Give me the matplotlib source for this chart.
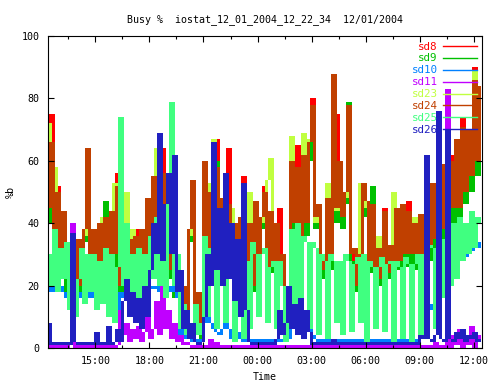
import numpy as np
import pandas as pd
import matplotlib
matplotlib.use("Agg")
import matplotlib.pyplot as plt
from matplotlib.ticker import MultipleLocator, FuncFormatter

# samples every 10 minutes
times = pd.date_range("2004-12-01 12:25", periods=145, freq="10min")
start_hour = 12 + 22 / 60 + 34 / 3600

sd8 = [48, 75, 28, 52, 26, 42, 20, 28, 8, 10, 33, 18,
       36, 64, 28, 36, 20, 38, 24, 40, 22, 42, 28, 56,
       18, 42, 20, 33, 17, 34, 38, 36, 22, 46, 28, 53,
       33, 52, 64, 55, 24, 43, 18, 28, 7, 18, 4, 36,
       48, 6, 16, 3, 58, 28, 48, 33, 67, 28, 46, 26,
       64, 28, 38, 20, 40, 55, 26, 38, 18, 45, 23, 40,
       52, 23, 42, 26, 38, 45, 28, 12, 18, 55, 38, 65,
       34, 60, 38, 64, 80, 40, 44, 28, 23, 46, 26, 86,
       75, 58, 40, 50, 76, 28, 30, 18, 28, 48, 45, 26,
       31, 18, 30, 20, 45, 22, 31, 18, 43, 26, 44, 28,
       47, 28, 38, 26, 41, 28, 49, 30, 51, 33, 53, 36,
       57, 38, 62, 43, 65, 43, 74, 48, 68, 53, 90, 58, 82]
sd9 = [40, 60, 25, 46, 25, 40, 18, 26, 7, 10, 30, 16,
       34, 58, 26, 31, 20, 36, 22, 47, 20, 40, 26, 48,
       16, 38, 18, 30, 15, 32, 20, 34, 20, 44, 26, 50,
       30, 50, 26, 52, 22, 40, 16, 26, 6, 16, 4, 34,
       46, 6, 15, 3, 54, 26, 46, 30, 60, 26, 44, 24,
       42, 26, 36, 20, 38, 46, 24, 36, 18, 42, 22, 38,
       46, 22, 40, 24, 36, 22, 26, 12, 18, 52, 36, 54,
       32, 56, 36, 60, 70, 38, 40, 26, 22, 44, 25, 80,
       40, 55, 38, 46, 79, 26, 28, 18, 26, 48, 42, 24,
       52, 18, 28, 20, 40, 22, 30, 18, 42, 25, 42, 26,
       40, 26, 36, 25, 40, 26, 46, 28, 48, 31, 50, 34,
       54, 36, 56, 40, 62, 40, 66, 46, 64, 50, 80, 55, 78]
sd10 = [20, 18, 22, 19, 20, 18, 16, 14, 8, 10, 18, 16,
        15, 16, 18, 16, 14, 15, 16, 14, 12, 13, 10, 12,
        18, 16, 17, 14, 15, 13, 15, 16, 18, 17, 20, 19,
        20, 18, 17, 16, 18, 20, 18, 16, 4, 6, 3, 4,
        2, 3, 2, 3, 8, 10, 8, 6, 5, 4, 6, 8,
        6, 3, 4, 5, 3, 2, 2, 3, 2, 2, 3, 2,
        2, 2, 3, 2, 2, 3, 2, 2, 3, 10, 8, 9,
        8, 6, 5, 7, 4, 3, 2, 3, 2, 3, 2, 3,
        2, 2, 3, 2, 2, 3, 2, 2, 3, 2, 2, 2,
        3, 2, 2, 3, 2, 2, 2, 3, 2, 2, 3, 2,
        2, 2, 3, 2, 8, 10, 12, 14, 12, 15, 16, 18,
        20, 22, 24, 26, 25, 28, 30, 29, 32, 31, 33, 32, 34]
sd11 = [0, 1, 0, 0, 2, 0, 0, 1, 40, 0, 0, 1,
        0, 0, 2, 0, 0, 1, 0, 0, 3, 0, 0, 1,
        12, 4, 8, 2, 6, 3, 7, 2, 5, 10, 3, 6,
        15, 4, 20, 6, 12, 3, 8, 2, 4, 1, 2, 1,
        0, 1, 0, 0, 1, 0, 3, 0, 2, 0, 1, 0,
        0, 1, 0, 0, 1, 0, 0, 0, 1, 0, 0, 0,
        0, 0, 1, 0, 0, 0, 0, 1, 0, 0, 0, 0,
        0, 0, 1, 0, 0, 0, 0, 0, 0, 1, 0, 0,
        0, 0, 0, 0, 1, 0, 0, 0, 0, 0, 1, 0,
        0, 0, 0, 1, 0, 0, 0, 0, 0, 0, 1, 0,
        0, 0, 1, 0, 0, 0, 1, 0, 0, 2, 0, 1,
        0, 83, 0, 4, 1, 6, 0, 3, 1, 7, 0, 4, 2]
sd23 = [72, 62, 58, 46, 30, 40, 24, 28, 9, 11, 32, 22,
        36, 60, 28, 35, 24, 38, 42, 40, 26, 42, 53, 48,
        22, 38, 50, 33, 38, 34, 24, 36, 26, 46, 32, 52,
        64, 50, 30, 52, 26, 42, 22, 28, 9, 18, 6, 36,
        50, 8, 17, 4, 56, 53, 46, 67, 54, 30, 46, 28,
        44, 45, 38, 22, 40, 48, 28, 50, 20, 44, 26, 40,
        48, 54, 61, 28, 38, 26, 30, 14, 20, 68, 40, 56,
        36, 69, 40, 67, 74, 40, 45, 28, 26, 53, 28, 84,
        44, 58, 42, 48, 74, 30, 30, 20, 53, 50, 45, 28,
        32, 20, 36, 22, 42, 24, 32, 50, 44, 28, 44, 30,
        42, 30, 42, 28, 42, 30, 48, 32, 52, 35, 54, 38,
        58, 40, 58, 45, 65, 45, 70, 50, 68, 55, 89, 60, 82]
sd24 = [45, 66, 30, 50, 28, 44, 22, 30, 8, 12, 35, 20,
        38, 64, 30, 38, 22, 40, 25, 42, 24, 44, 30, 52,
        20, 40, 22, 35, 18, 36, 22, 38, 24, 48, 30, 55,
        35, 54, 30, 56, 25, 45, 20, 30, 8, 20, 5, 38,
        54, 8, 18, 4, 60, 30, 50, 35, 58, 30, 48, 28,
        46, 30, 40, 22, 42, 50, 28, 40, 20, 47, 25, 42,
        50, 25, 44, 28, 40, 26, 30, 14, 20, 60, 40, 58,
        36, 62, 40, 66, 78, 42, 46, 30, 25, 48, 28, 88,
        45, 60, 42, 50, 78, 30, 32, 20, 30, 53, 47, 28,
        46, 20, 32, 22, 44, 24, 33, 20, 45, 28, 46, 30,
        44, 30, 40, 28, 43, 30, 50, 32, 53, 35, 55, 38,
        59, 40, 60, 45, 67, 45, 71, 50, 70, 55, 86, 60, 84]
sd25 = [30, 20, 38, 18, 32, 22, 34, 12, 6, 10, 22, 32,
        14, 30, 18, 30, 12, 28, 14, 32, 10, 30, 8, 26,
        74, 20, 40, 15, 30, 12, 32, 14, 30, 18, 36, 22,
        42, 20, 38, 16, 46, 79, 20, 30, 6, 14, 4, 8,
        3, 14, 4, 8, 36, 10, 32, 30, 6, 30, 34, 8,
        28, 26, 2, 30, 28, 3, 28, 6, 34, 30, 10, 30,
        32, 8, 26, 28, 6, 28, 20, 2, 18, 38, 8, 40,
        10, 36, 34, 6, 34, 32, 4, 30, 28, 3, 30, 28,
        8, 28, 4, 30, 28, 5, 27, 29, 8, 30, 2, 28,
        26, 6, 26, 29, 5, 27, 28, 2, 28, 26, 3, 29,
        27, 1, 27, 30, 4, 30, 10, 33, 32, 6, 32, 35,
        16, 38, 20, 40, 22, 42, 28, 40, 30, 44, 32, 42, 40]
sd26 = [8, 1, 2, 1, 1, 2, 1, 1, 37, 2, 1, 1,
        2, 1, 1, 1, 5, 1, 2, 1, 7, 1, 2, 6,
        2, 15, 22, 10, 18, 8, 16, 6, 20, 10, 25, 40,
        30, 69, 28, 46, 56, 30, 62, 18, 25, 6, 12, 3,
        8, 2, 1, 2, 10, 30, 20, 66, 25, 45, 20, 56,
        22, 40, 15, 35, 10, 53, 12, 2, 1, 1, 1, 1,
        1, 1, 1, 1, 3, 12, 4, 8, 20, 6, 14, 4,
        16, 3, 12, 5, 1, 1, 1, 2, 1, 1, 1, 3,
        1, 1, 1, 2, 1, 1, 1, 1, 1, 1, 2, 1,
        1, 1, 1, 1, 1, 2, 1, 1, 1, 1, 1, 1,
        2, 1, 1, 1, 4, 3, 62, 3, 2, 4, 76, 3,
        2, 70, 3, 2, 5, 3, 6, 2, 4, 3, 5, 2, 3]

series = {"sd8": sd8, "sd9": sd9, "sd10": sd10, "sd11": sd11,
          "sd23": sd23, "sd24": sd24, "sd25": sd25, "sd26": sd26}
colors = {"sd8": "#ff0000", "sd9": "#00c000", "sd10": "#0080ff", "sd11": "#c000ff",
          "sd23": "#c0ff40", "sd24": "#c04000", "sd25": "#40ff80", "sd26": "#2020c0"}

hours = np.asarray((times - times[0].normalize()) / pd.Timedelta(hours=1))

mono = "DejaVu Sans Mono"
fs = 7.2

fig = plt.figure(figsize=(5, 3.84), dpi=100)
ax = fig.add_axes([0.096, 0.094, 0.868, 0.812])

# the raw data is much denser than the pixel grid, so each 10 min slot
# shows as a solid column spanning the range the line swept through
for name, vals in series.items():
    v = np.asarray(vals, dtype=float)
    lo = np.minimum(v[:-1], v[1:])
    hi = np.maximum(v[:-1], v[1:])
    lo = np.append(lo, lo[-1])
    hi = np.append(hi, hi[-1])
    ax.fill_between(hours, lo, np.maximum(hi, lo + 0.8), step="post",
                    color=colors[name], lw=0, antialiased=False)
    ax.plot([], [], color=colors[name], lw=1, label=name)

ax.set_xlim(start_hour, 36.45)
ax.set_ylim(0, 100)
ax.xaxis.set_major_locator(MultipleLocator(3))
ax.xaxis.set_minor_locator(MultipleLocator(1.5))
ax.xaxis.set_major_formatter(FuncFormatter(lambda x, p: "%02d:00" % (int(round(x)) % 24)))
ax.yaxis.set_major_locator(MultipleLocator(20))

ax.tick_params(which="both", direction="in", top=True, right=True, width=0.8,
               labelsize=fs, labelfontfamily=mono)
ax.tick_params(which="major", length=4.5, pad=6)
ax.tick_params(which="minor", length=2.5)
for s in ax.spines.values():
    s.set_linewidth(0.8)
    s.set_zorder(5)

ax.set_title("Busy %  iostat_12_01_2004_12_22_34  12/01/2004",
             fontsize=fs, family=mono, pad=10)
ax.set_xlabel("Time", fontsize=fs, family=mono, labelpad=4)
ax.set_ylabel("%b", fontsize=fs, family=mono, labelpad=4)

ax.legend(loc="upper right", markerfirst=False, labelcolor="linecolor", frameon=False,
          prop={"family": mono, "size": fs + 0.6}, handlelength=3.1, handletextpad=0.5,
          labelspacing=0.18, borderaxespad=0.1, borderpad=0.4)

fig.savefig("out.png", dpi=100)
